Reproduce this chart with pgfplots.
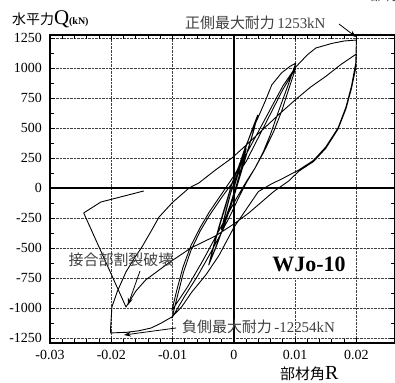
\documentclass[border=0pt]{standalone}
\usepackage{fontspec}
\setmainfont{Liberation Serif}
\newfontfamily\jp{Noto Sans CJK JP}
\usepackage{pgfplots}
\pgfplotsset{compat=1.18}
\usetikzlibrary{arrows.meta}
\begin{document}
\begin{tikzpicture}[x=1bp,y=1bp]
\useasboundingbox (0,0) rectangle (395,383);
\begin{axis}[
  at={(50bp,40bp)}, anchor=south west,
  scale only axis, width=345bp, height=308bp,
  xmin=-0.03, xmax=0.0263, ymin=-1292, ymax=1275,
  scaled x ticks=false, scaled y ticks=false,
  xtick={-0.03,-0.02,-0.01,0,0.01,0.02},
  xticklabels={-0.03,-0.02,-0.01,0,0.01,0.02},
  ytick={-1250,-1000,-750,-500,-250,0,250,500,750,1000,1250},
  yticklabels={-1250,-1000,-750,-500,-250,0,250,500,750,1000,1250},
  minor x tick num=4, minor y tick num=1,
  xtick pos=both, ytick pos=both,
  tick align=inside,
  major tick length=5bp, minor tick length=4bp,
  every tick/.style={black, line width=0.8pt},
  axis line style={line width=1.6pt},
  grid=major,
  major grid style={densely dotted, black!75, line width=0.7pt},
  tick label style={font=\fontsize{14}{14}\selectfont, inner sep=0pt},
  yticklabel style={xshift=-8bp},
  xticklabel style={yshift=-7bp},
  clip=true,
]
\draw[line width=1.8pt] (axis cs:0,-1292) -- (axis cs:0,1275);
\draw[line width=1.8pt] (axis cs:-0.03,0) -- (axis cs:0.0263,0);
\addplot[black, line width=0.9pt, line join=round] coordinates {
(0,0) (0.001,170) (0.002,330) (0.0013,180) (0.0005,30) (-0.0005,-130) (-0.0013,-250) (-0.002,-350)
(-0.0013,-200) (-0.0005,-40) (0.0005,100) (0.0013,220) (0.002,320) (0.0012,160) (0.0004,20)
(-0.0006,-140) (-0.0014,-260) (-0.002,-340) (-0.0012,-170) (-0.0004,-20)
(0.0006,120) (0.0015,270) (0.0025,420) (0.0033,530) (0.0039,608) (0.0032,470) (0.0022,300)
(0.0012,130) (0.0002,-40) (-0.0008,-200) (-0.0018,-340) (-0.0028,-480) (-0.0036,-580) (-0.0041,-642)
(-0.0034,-510) (-0.0024,-330) (-0.0014,-160) (-0.0004,20) (0.0006,150) (0.0016,290) (0.0026,430)
(0.0038,590) (0.0030,440) (0.0020,270) (0.0010,110) (0,-60) (-0.001,-220) (-0.002,-370) (-0.003,-500)
(-0.004,-625) (-0.0033,-480) (-0.0023,-300) (-0.0013,-130) (-0.0003,40)
(0.0008,180) (0.0018,330) (0.003,480) (0.004,592) (0.0052,733) (0.0062,860) (0.0078,960) (0.0092,1015) (0.0101,1040)
(0.0088,850) (0.0073,640) (0.006,450) (0.0048,300) (0.0035,170) (0.002,40) (0.0008,-80) (-0.0005,-220)
(-0.002,-370) (-0.004,-560) (-0.006,-740) (-0.008,-900) (-0.0101,-1083)
(-0.0092,-900) (-0.0082,-700) (-0.007,-520) (-0.0055,-360) (-0.004,-230) (-0.002,-80) (0,60)
(0.002,220) (0.004,420) (0.006,620) (0.008,820) (0.0101,1000)
(0.009,830) (0.0078,640) (0.0065,470) (0.005,310) (0.0035,170) (0.002,50) (0.0005,-80) (-0.001,-220)
(-0.003,-410) (-0.005,-600) (-0.0075,-820) (-0.0101,-1020)
(-0.0093,-850) (-0.0083,-660) (-0.007,-480) (-0.0055,-330) (-0.004,-200) (-0.002,-50) (0,100) (0.002,280)
(0.004,470) (0.006,660) (0.008,850) (0.0101,1008) (0.012,1110) (0.0134,1167) (0.016,1205) (0.018,1225) (0.02,1233)
(0.0199,1042) (0.0192,850) (0.0183,675) (0.017,500) (0.015,342) (0.013,230) (0.0106,150) (0.008,80)
(0.006,30) (0.004,-30) (0.002,-180) (0,-330) (-0.0024,-560) (-0.0045,-720) (-0.0069,-870) (-0.0085,-990)
(-0.0101,-1075) (-0.012,-1130) (-0.0135,-1167) (-0.0155,-1190) (-0.0175,-1203) (-0.0201,-1208)
(-0.0201,-1158) (-0.0199,-992) (-0.019,-860) (-0.0176,-700) (-0.0163,-590) (-0.015,-492) (-0.0135,-360)
(-0.0122,-242) (-0.01,-120) (-0.0073,0) (-0.0057,42) (-0.003,150) (-0.0003,250) (0.0025,380) (0.005,500)
(0.0075,620) (0.01,733) (0.0125,840) (0.015,930) (0.0175,1030) (0.02,1117)
(0.0199,1000) (0.0192,830) (0.0183,660) (0.017,490) (0.015,330) (0.013,220) (0.0106,140) (0.009,60)
(0.0065,-30) (0.004,-140) (0.0024,-210) (0,-300) (-0.003,-400) (-0.007,-500) (-0.0105,-620)
(-0.0144,-767) (-0.016,-860) (-0.0176,-992)
(-0.0245,-208) (-0.0217,-117) (-0.0147,-25)
};
\end{axis}
% annotations
\node[anchor=base west, inner sep=0pt] at (12,359) {{\jp\fontsize{14}{14}\selectfont 水平力}{\fontsize{21}{21}\selectfont Q}{\fontsize{10}{10}\selectfont\bfseries (kN)}};
\node[anchor=base west, inner sep=0pt] at (280,4) {{\jp\fontsize{15}{15}\selectfont 部材角}{\fontsize{20}{20}\selectfont R}};
\node[anchor=west, inner sep=0pt, text=black!70] at (370,388) {\jp\fontsize{14}{14}\selectfont 部材角};
\node[anchor=west, inner sep=0pt, text=black!75] at (185,360) {{\jp\fontsize{15}{15}\selectfont 正側最大耐力}\ {\fontsize{15}{15}\selectfont 1253kN}};
\draw[-{Stealth[length=7bp,width=5bp]}, line width=0.8pt] (339,359) -- (356,346);
\node[inner sep=0pt, text=black!75] at (121,123) {\jp\fontsize{15}{15}\selectfont 接合部割裂破壊};
\draw[-{Stealth[length=7bp,width=5bp]}, line width=0.8pt] (140,112) -- (128,78);
\node[anchor=west, inner sep=0pt, text=black!75] at (182,56) {{\jp\fontsize{15}{15}\selectfont 負側最大耐力}\ {\fontsize{15}{15}\selectfont -12254kN}};
\draw[-{Stealth[length=7bp,width=5bp]}, line width=0.8pt] (176,55) -- (124,48);
\node[fill=white, minimum width=82bp, minimum height=28bp, inner sep=0pt] at (309,119) {\fontsize{22}{22}\selectfont\bfseries WJo-10};
\end{tikzpicture}
\end{document}
